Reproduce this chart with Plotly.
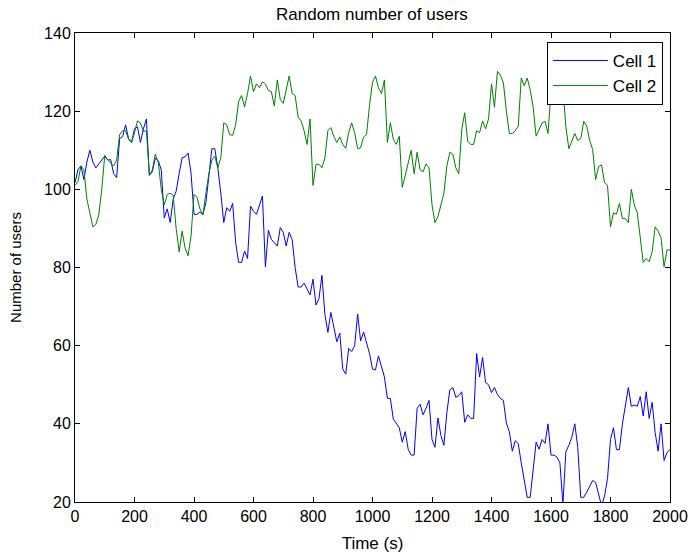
import plotly.graph_objects as go

time_s = list(range(0, 2001, 10))

cell1 = [
    101.7, 105, 106, 102.5, 107, 110, 107, 105.5, 106.5, 107.5,
    108.5, 107.5, 107.6, 104, 103, 113, 113.5, 116.5, 113, 112,
    115.5, 116, 112, 115.5, 118, 103.6, 104.5, 108, 107.3, 105,
    92.7, 95, 91.5, 97.5, 99.5, 104, 108.1, 108.3, 109.3, 104.2,
    93.6, 93.6, 94.2, 93.6, 96.6, 103.4, 110.4, 110.4, 105.5, 99.1,
    91.5, 95.3, 94.4, 96.4, 86.4, 81.3, 81.3, 84.2, 82.3, 95.7,
    94.4, 93.6, 95.7, 98.3, 80.2, 89.5, 87.2, 86.4, 85.5, 90.2,
    89, 85.5, 89, 87.1, 80, 75, 75, 76, 74.5, 73,
    77, 70.4, 72, 78, 68, 63.4, 68.5, 65, 61, 63.2,
    54, 52.7, 59.3, 58.5, 60, 68.1, 61.2, 63.5, 60.4, 58,
    54, 53.8, 57.4, 55, 52, 46.5, 46.5, 41.2, 40.1, 39,
    35.3, 38, 33.5, 32, 32, 44, 45, 42.3, 44, 46,
    36, 34, 41.5, 37, 34.5, 42.9, 48.7, 49.3, 46.8, 47.2,
    48.2, 40.4, 42.3, 41.4, 41.4, 58, 52, 57, 50.6, 50,
    48, 49.3, 47.5, 46.5, 46, 40.2, 38, 33, 35.7, 34.9,
    30, 25, 21.2, 21.2, 29, 35.3, 33.5, 36, 35, 40,
    32, 32, 31.5, 30, 19.5, 32.9, 34.5, 36.6, 40, 34,
    21.2, 21.2, 22.5, 24, 25.5, 25, 22, 19, 21.5, 26,
    36, 39, 33.4, 33.4, 40, 44.5, 49.3, 44.5, 44.8, 44.5,
    47, 42, 48.2, 41.4, 45.5, 37.8, 33, 40, 30.6, 32.7,
    33.4,
]

cell2 = [
    101, 102, 106, 105, 97.5, 93.5, 90.4, 91, 93.5, 100,
    108.7, 107.5, 106.7, 106, 107.5, 114, 115, 115, 112.8, 112,
    114.5, 117.5, 117, 114.8, 115, 103.6, 105, 109, 106.8, 100,
    96, 98.7, 99, 98.5, 90, 84, 89.3, 85, 83, 88,
    98.7, 98, 95, 93.5, 99, 104, 107.5, 108.5, 105.5, 108,
    117, 116.5, 114, 113.8, 116.5, 122.5, 124, 121.1, 124.5, 129,
    125, 127, 126, 127.5, 127, 125.3, 125, 121.3, 128, 123,
    122, 126, 129, 124.5, 124, 118.5, 117.5, 115, 111.5, 118,
    101, 106.4, 106.4, 105.5, 108, 115, 115.8, 113.5, 112, 113.4,
    111.5, 110.5, 114.5, 117, 114.5, 110.4, 110.6, 113.4, 114, 121.5,
    127.4, 129, 126, 124.5, 128, 112, 117, 112.8, 111.5, 113.6,
    100.5, 103.5, 107.2, 110, 104, 109.5, 105, 104.5, 106.5, 105.5,
    96, 91.5, 93, 96, 99, 106, 109.5, 109, 105.5, 104,
    115.3, 119.6, 112.3, 111.5, 111.5, 115, 114.5, 117.5, 115.5, 118,
    127, 121, 130.2, 129.2, 127.2, 120, 114.3, 114.3, 115, 116.2,
    128.5, 126.5, 128.5, 125.5, 121, 113.6, 115.3, 117, 117.4, 114.3,
    125, 129, 127, 130, 126, 116, 110.4, 112.5, 114.3, 112.5,
    113, 117.4, 116.2, 112.5, 110.2, 102.5, 105.8, 106.3, 101.7, 101,
    90.4, 94, 93.6, 96.4, 92.5, 92.5, 91.5, 100, 96, 94,
    88, 81.3, 82.3, 81.5, 84, 90.4, 89.3, 87.6, 80.2, 84.5,
    84.5,
]

series_names = ["Cell 1", "Cell 2"]
x_ticks = list(range(0, 2001, 200))
y_ticks = list(range(20, 141, 20))

FONT = "Liberation Sans, Arial, sans-serif"

fig = go.Figure()
fig.add_trace(go.Scatter(x=time_s, y=cell1, mode="lines", name=series_names[0],
                         line=dict(color="#0000FF", width=1)))
fig.add_trace(go.Scatter(x=time_s, y=cell2, mode="lines", name=series_names[1],
                         line=dict(color="#008000", width=1)))

axis_common = dict(
    showline=True, linecolor="black", linewidth=1, mirror="ticks",
    ticks="inside", ticklen=5, tickcolor="black", tickwidth=1,
    showgrid=False, zeroline=False, automargin=False,
    tickfont=dict(family=FONT, size=16, color="black"),
)

fig.update_layout(
    width=690, height=553,
    margin=dict(l=75, r=20, t=33, b=51),
    paper_bgcolor="white", plot_bgcolor="white",
    font=dict(family=FONT, size=16, color="black"),
    title=dict(text="Random number of users", x=0.539, xanchor="center",
               y=0.975, yanchor="middle", font=dict(family=FONT, size=17, color="black")),
    xaxis=dict(range=[0, 2000], tickvals=x_ticks,
               title=dict(text="Time (s)", standoff=12,
                          font=dict(family=FONT, size=17, color="black")),
               **axis_common),
    yaxis=dict(range=[20, 140], tickvals=y_ticks,
               title=dict(text="Number of users", standoff=18,
                          font=dict(family=FONT, size=15, color="black")),
               **axis_common),
    legend=dict(x=0.988, y=0.981, xanchor="right", yanchor="top",
                bgcolor="white", bordercolor="black", borderwidth=1,
                font=dict(family=FONT, size=17, color="black"),
                itemwidth=55, tracegroupgap=2),
    showlegend=True,
)

fig.write_html("out.html")
